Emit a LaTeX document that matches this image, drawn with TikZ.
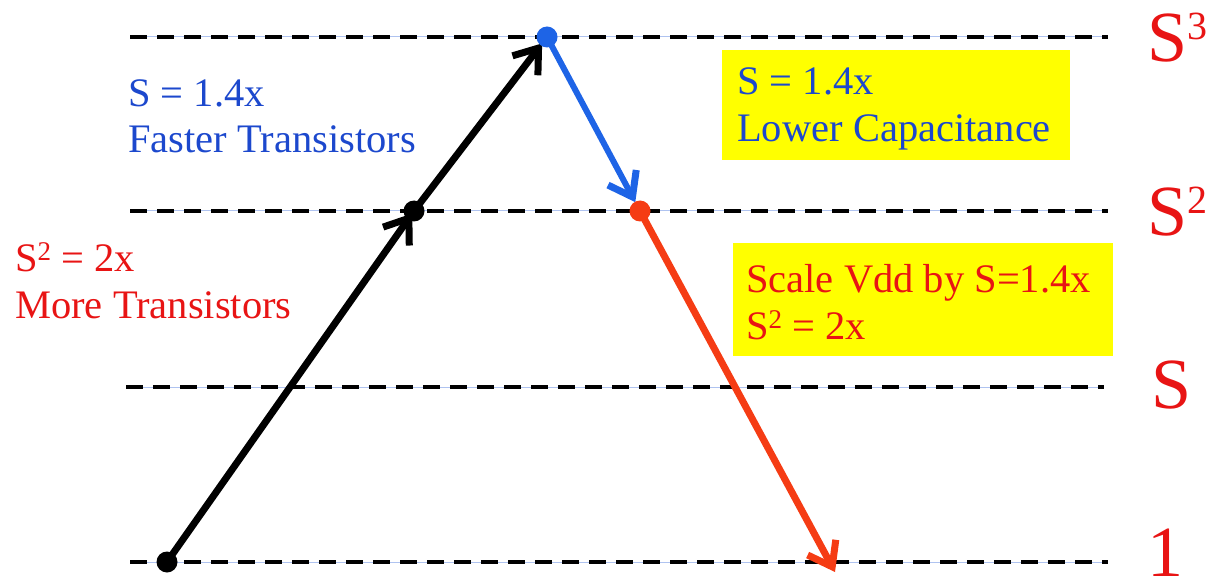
\documentclass[tikz,border=0pt]{standalone}
\usepackage{fontspec}
\setmainfont{Liberation Serif}
\usetikzlibrary{arrows.meta}
\definecolor{txtblue}{RGB}{28,72,205}
\definecolor{arrblue}{RGB}{30,100,230}
\definecolor{txtred}{RGB}{232,20,20}
\definecolor{arrred}{RGB}{245,60,20}
\definecolor{guideblue}{RGB}{175,195,240}
\definecolor{hilite}{RGB}{255,255,0}
\newcommand{\supsmall}[1]{\raisebox{11pt}{\fontsize{27}{27}\selectfont #1}}
\newcommand{\suplarge}[1]{\raisebox{22pt}{\fontsize{40}{40}\selectfont #1}}
\tikzset{
  levelline/.style={draw=black, line width=3.4pt, dash pattern=on 17pt off 10pt},
  guideline/.style={draw=guideblue, line width=1pt},
  bodytext/.style={inner sep=0pt, anchor=base west, font=\fontsize{40.5}{46}\selectfont},
  levellabel/.style={inner sep=0pt, anchor=base west, text=txtred, font=\fontsize{72}{72}\selectfont},
  flow/.style={line width=7pt, line cap=round, -{Straight Barb[length=22pt,width=32pt,line width=7pt]}},
  dot/.style={circle, inner sep=0pt, minimum size=21pt},
  hibox/.style={fill=hilite, inner sep=0pt, anchor=north west},
}
\begin{document}
\begin{tikzpicture}[x=1pt,y=-1pt]
\useasboundingbox (0,0) rectangle (1209,585);
% level lines
\coordinate (l3a) at (130,37);  \coordinate (l3b) at (1108,37);
\coordinate (l2a) at (130,211); \coordinate (l2b) at (1108,211);
\coordinate (l1a) at (126,387); \coordinate (l1b) at (1104,387);
\coordinate (l0a) at (130,562); \coordinate (l0b) at (1108,562);
\foreach \a/\b in {l3a/l3b,l2a/l2b,l1a/l1b,l0a/l0b}{
  \draw[guideline] (\a) -- (\b);
  \draw[levelline] (\a) -- (\b);
}
% yellow boxes
\node[hibox, minimum width=348pt, minimum height=110pt] (box1) at (722,50) {};
\node[hibox, minimum width=380pt, minimum height=113pt] (box2) at (733,243) {};
% texts
\node[bodytext, text=txtblue] (t1a) at (128,107) {S = 1.4x};
\node[bodytext, text=txtblue] (t1b) at (128,153) {Faster Transistors};
\node[bodytext, text=txtred] (t2a) at (15,271) {S\supsmall{2} = 2x};
\node[bodytext, text=txtred] (t2b) at (15,318) {More Transistors};
\node[bodytext, text=txtblue] (t3a) at (737,95) {S = 1.4x};
\node[bodytext, text=txtblue] (t3b) at (737,142) {Lower Capacitance};
\node[bodytext, text=txtred] (t4a) at (746,292) {Scale Vdd by S=1.4x};
\node[bodytext, text=txtred] (t4b) at (746,339) {S\supsmall{2} = 2x};
% level labels
\node[levellabel] (s3) at (1147,62) {S\suplarge{3}};
\node[levellabel] (s2) at (1147,236) {S\suplarge{2}};
\node[levellabel] (s1) at (1151,408) {S};
\node[levellabel] (s0) at (1147,576) {1};
% points
\coordinate (p0) at (167,562);
\coordinate (p1) at (414,211);
\coordinate (p2) at (547,37);
\coordinate (p3) at (640,211);
\coordinate (p4) at (835,572);
% arrows
\draw[flow, black, shorten >=3pt] (p0) -- (p1);
\draw[flow, black, shorten >=8pt] (p1) -- (p2);
\draw[flow, arrblue, line width=6pt, shorten >=10pt] (p2) -- (p3);
\draw[flow, arrred] (p3) -- (p4);
% dots
\node[dot, fill=black] (d0) at (p0) {};
\node[dot, fill=black] (d1) at (p1) {};
\node[dot, fill=arrblue] (d2) at (p2) {};
\node[dot, fill=arrred] (d3) at (p3) {};
\end{tikzpicture}
\end{document}
